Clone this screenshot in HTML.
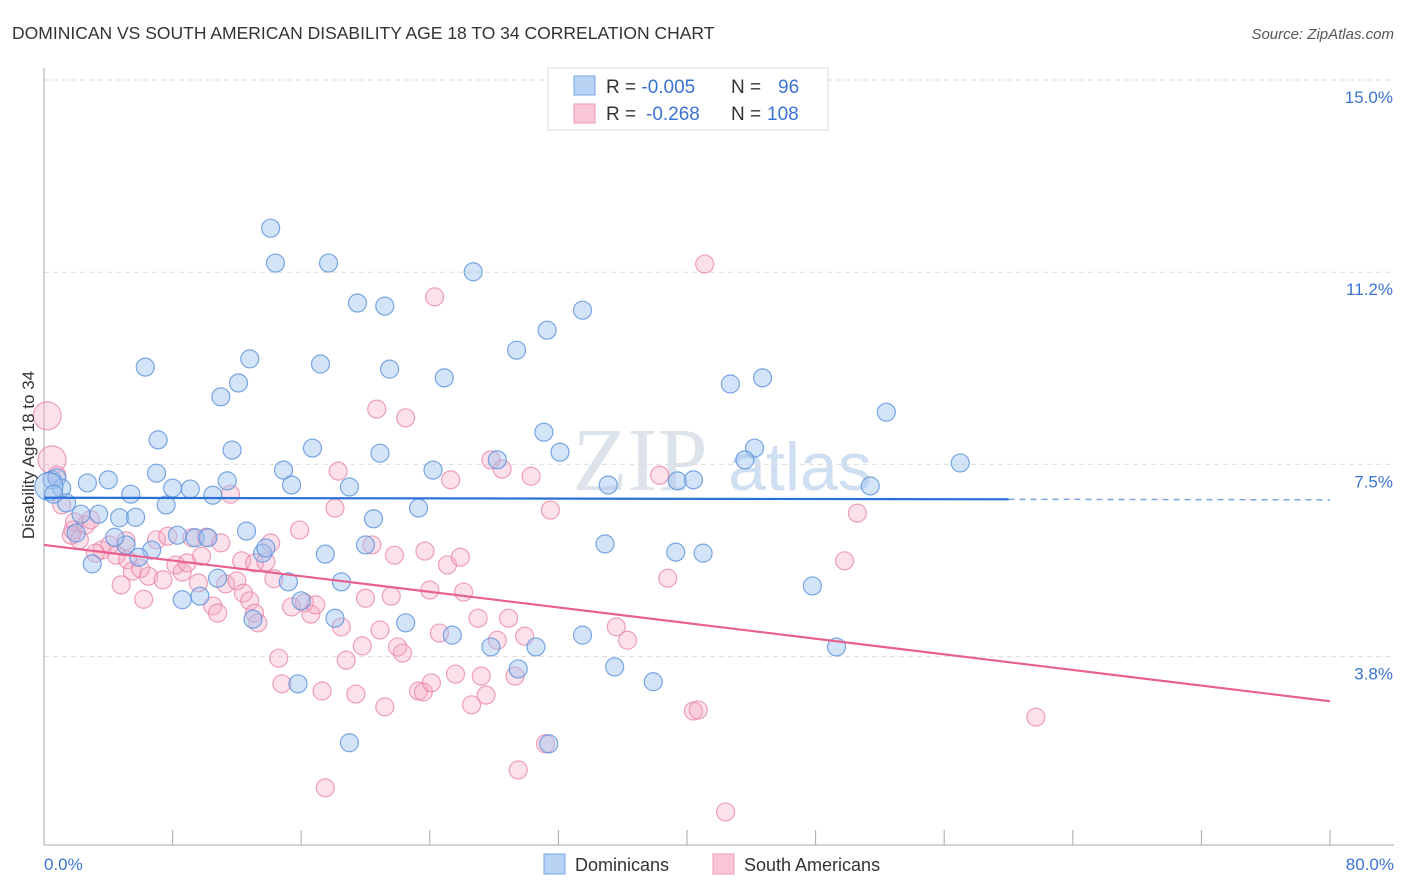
<!DOCTYPE html>
<html><head><meta charset="utf-8">
<style>
body{margin:0;background:#fff;font-family:"Liberation Sans",sans-serif;}
svg{display:block}
</style></head>
<body>
<svg id="chart" width="1406" height="892" viewBox="0 0 1406 892">
<text x="12" y="39" font-size="17.5" fill="#333">DOMINICAN VS SOUTH AMERICAN DISABILITY AGE 18 TO 34 CORRELATION CHART</text>
<text x="1394" y="39" font-size="15" fill="#555" font-style="italic" text-anchor="end">Source: ZipAtlas.com</text>
<text x="640" y="490" font-size="90" fill="#dde3ea" font-family="Liberation Serif,serif" text-anchor="middle">ZIP</text>
<text x="800" y="490" font-size="68" fill="#cfdff2" text-anchor="middle">atlas</text>
<g id="grid"></g>
<g id="axes"></g>
<g id="pink"></g>
<g id="blue"></g>
<g id="lines"></g>
<text transform="translate(34,455) rotate(-90)" font-size="17" fill="#333" text-anchor="middle">Disability Age 18 to 34</text>
<g>
<rect x="548" y="68" width="280" height="62" fill="#fff" stroke="#ddd"/>
<rect x="574" y="76" width="21" height="19" fill="#b9d3f5" stroke="#7aa6e3"/>
<rect x="574" y="104" width="21" height="19" fill="#f9c6d6" stroke="#ee9ab6"/>
<text x="606" y="93" font-size="19" fill="#333">R = <tspan fill="#3a74d2">-0.005</tspan><tspan x="731">N =</tspan><tspan x="778" fill="#3a74d2">96</tspan></text>
<text x="606" y="120" font-size="19" fill="#333">R = <tspan x="646" fill="#3a74d2">-0.268</tspan><tspan x="731">N =</tspan><tspan x="767" fill="#3a74d2">108</tspan></text>
</g>
<g>
<rect x="544" y="854" width="21" height="20" fill="#b9d3f5" stroke="#7aa6e3"/>
<text x="575" y="871" font-size="18" fill="#333">Dominicans</text>
<rect x="713" y="854" width="21" height="20" fill="#f9c6d6" stroke="#ee9ab6"/>
<text x="744" y="871" font-size="18" fill="#333">South Americans</text>
</g>
</svg>
<script>
const xTicks=[0,8,16,24,32,40,48,56,64,72,80];
const yTicks=[15.0,11.25,7.5,3.75];
const yTickLabels=["15.0%","11.2%","7.5%","3.8%"];
const xEndLabels=["0.0%","80.0%"];
const blueX=[0.5,0.8,1.1,1.4,2.7,4.0,5.4,7.1,6.3,7.0,8.0,9.1,10.5,11.4,11.7,11.0,12.1,12.8,14.1,14.4,17.7,17.2,19.5,21.2,21.5,16.7,14.9,15.4,19.0,20.9,24.2,24.9,26.7,29.4,31.3,33.5,31.1,32.1,28.2,23.3,20.5,20.0,17.5,18.5,15.2,13.6,12.6,13.8,10.8,9.7,8.6,7.6,8.3,9.4,10.2,6.7,5.9,5.1,4.4,4.7,5.7,3.4,2.3,2.0,3.0,13.0,16.0,18.1,22.5,25.4,27.8,29.5,30.6,15.8,19.0,31.4,33.5,35.5,37.9,34.9,35.1,39.4,40.4,39.3,41.0,42.7,44.7,44.2,43.6,52.4,57.0,51.4,47.8,49.3,0.3,0.6];
const blueY=[7.53,7.57,7.37,7.08,7.47,7.53,7.25,8.31,9.73,7.66,7.37,7.35,7.23,7.51,8.11,9.15,9.42,9.89,12.44,11.76,11.76,9.79,10.98,10.92,9.69,8.15,7.72,7.43,7.39,8.05,7.72,9.52,11.59,10.06,10.45,10.84,8.46,8.07,7.92,6.98,6.77,6.26,6.08,5.54,5.54,6.10,6.53,6.20,5.61,5.26,5.19,7.04,6.45,6.40,6.40,6.16,6.02,6.26,6.41,6.79,6.80,6.86,6.86,6.49,5.89,4.81,5.17,4.83,4.74,4.50,4.27,3.84,4.27,3.55,2.40,2.38,4.50,3.88,3.59,6.28,7.43,7.51,7.53,6.12,6.10,9.40,9.52,8.15,7.92,8.85,7.86,7.41,5.46,4.27,7.40,7.25];
const pinkX=[0.2,0.5,0.8,1.1,1.8,1.9,2.6,2.2,2.9,3.6,4.1,4.5,5.1,5.2,4.8,5.5,6.2,6.5,7.0,7.4,7.7,8.2,8.6,8.9,9.6,9.8,10.5,10.8,9.2,10.1,11.6,11.3,12.0,12.4,12.8,13.1,13.3,12.3,13.1,13.8,14.1,14.6,14.8,15.4,15.9,16.2,16.6,17.3,16.9,17.5,18.1,18.3,18.5,18.8,19.4,19.8,20.0,20.4,20.9,21.2,21.6,22.0,22.3,21.8,22.5,20.7,23.3,23.6,24.1,24.0,24.6,23.7,25.1,25.3,25.6,25.9,26.1,26.6,27.0,27.2,27.5,27.8,28.2,28.5,28.9,29.3,29.5,29.9,30.3,31.2,31.5,35.6,36.3,38.3,38.8,40.4,40.7,41.1,42.4,49.8,50.6,61.7,24.3,1.7,3.2,6.0,11.0,14.3];
const pinkY=[8.78,7.92,7.62,7.04,6.55,6.71,6.65,6.36,6.75,6.16,6.26,6.06,6.34,5.97,5.48,5.75,5.20,5.65,6.36,5.58,6.43,5.87,5.73,5.91,5.52,6.04,5.07,4.93,6.40,6.41,7.25,5.50,5.56,5.32,5.17,4.93,4.74,5.95,5.91,5.93,6.30,4.05,3.55,5.05,6.55,5.13,4.91,3.41,5.09,1.52,6.98,7.70,4.66,4.01,3.35,4.29,5.22,6.26,4.60,3.10,5.26,4.27,4.15,6.06,8.74,8.91,3.41,3.39,3.57,5.38,4.54,6.14,5.87,7.53,3.74,6.02,5.34,3.14,4.83,3.70,3.33,7.92,4.40,7.74,4.83,3.70,1.87,4.48,7.60,2.38,6.94,4.66,4.40,7.62,5.61,3.02,3.04,11.74,1.05,5.95,6.88,2.90,11.10,6.45,6.10,5.80,6.30,5.60];
const blueTrend=[7.18,7.14];   // value at x=0, x=80
const blueSolidEnd=60;
const pinkTrend=[6.26,3.21];

const X0=44,X1=1330,YTOP=97,PXPER=51.25;
const sx=v=>X0+(v-0)/(80-0)*(X1-X0);
const sy=v=>YTOP+(15-v)*PXPER;
const NS="http://www.w3.org/2000/svg";
function mk(tag,parent){const e=document.createElementNS(NS,tag);document.getElementById(parent).appendChild(e);return e;}

// grid + y labels
yTicks.forEach((t,i)=>{
  const l=mk('line','grid');
  
  
  const gy=sy(t)-17;
  l.setAttribute('x1',X0);l.setAttribute('x2',1394);l.setAttribute('y1',gy);l.setAttribute('y2',gy);
  l.setAttribute('stroke','#ddd');l.setAttribute('stroke-dasharray','5,4');
  const tx=mk('text','grid');
  
  
  tx.setAttribute('x',1393);tx.setAttribute('y',sy(t)+6);tx.setAttribute('text-anchor','end');
  tx.setAttribute('font-size','17');tx.setAttribute('fill','#3a74d2');tx.textContent=yTickLabels[i];
});
// axes
const ya=mk('line','axes');


ya.setAttribute('x1',X0);ya.setAttribute('x2',X0);ya.setAttribute('y1',68);ya.setAttribute('y2',845);ya.setAttribute('stroke','#aaa');
const xa=mk('line','axes');


xa.setAttribute('x1',X0);xa.setAttribute('x2',1394);xa.setAttribute('y1',845);xa.setAttribute('y2',845);xa.setAttribute('stroke','#aaa');
xTicks.forEach(t=>{
  const l=mk('line','axes');
  
  
  l.setAttribute('x1',sx(t));l.setAttribute('x2',sx(t));l.setAttribute('y1',830);l.setAttribute('y2',845);l.setAttribute('stroke','#aaa');
});
[[0,'start',44],[80,'end',1394]].forEach((d,i)=>{
  const tx=mk('text','axes');
  
  
  tx.setAttribute('x',d[2]);tx.setAttribute('y',870);tx.setAttribute('text-anchor',d[1]);
  tx.setAttribute('font-size','17');tx.setAttribute('fill','#3a74d2');tx.textContent=xEndLabels[i];
});
// points
function pts(xs,ys,g,fill,stroke,name){
  xs.forEach((x,i)=>{
    const c=mk('circle',g);
    
    
    const big=(x<0.7&&(ys[i]>8.5||ys[i]===7.4||ys[i]===7.92));
    c.setAttribute('cx',sx(x));c.setAttribute('cy',sy(ys[i]));c.setAttribute('r',big?14:9);
    c.setAttribute('fill',fill);c.setAttribute('stroke',stroke);c.setAttribute('stroke-width','1.2');
  });
}
pts(pinkX,pinkY,'pink','rgba(246,170,196,0.35)','rgba(232,130,165,0.75)','south-american-point');
pts(blueX,blueY,'blue','rgba(160,196,240,0.45)','rgba(90,145,220,0.8)','dominican-point');
// trends
function ln(x1,y1,x2,y2,col,w,dash,name){
  const l=mk('line','lines');
  
  
  l.setAttribute('x1',sx(x1));l.setAttribute('y1',sy(y1));l.setAttribute('x2',sx(x2));l.setAttribute('y2',sy(y2));
  l.setAttribute('stroke',col);l.setAttribute('stroke-width',w);if(dash)l.setAttribute('stroke-dasharray',dash);
}
const bAt=x=>blueTrend[0]+(blueTrend[1]-blueTrend[0])*x/80;
ln(0,bAt(0),blueSolidEnd,bAt(blueSolidEnd),'#2b70d6',2.2,null,'dominican-trend-line');
ln(blueSolidEnd,bAt(blueSolidEnd),80,bAt(80),'#7aa6e3',1.5,'6,5','dominican-trend-extension');
ln(0,pinkTrend[0],80,pinkTrend[1],'#e8608f',2.2,null,'south-american-trend-line');
</script>
</body></html>
